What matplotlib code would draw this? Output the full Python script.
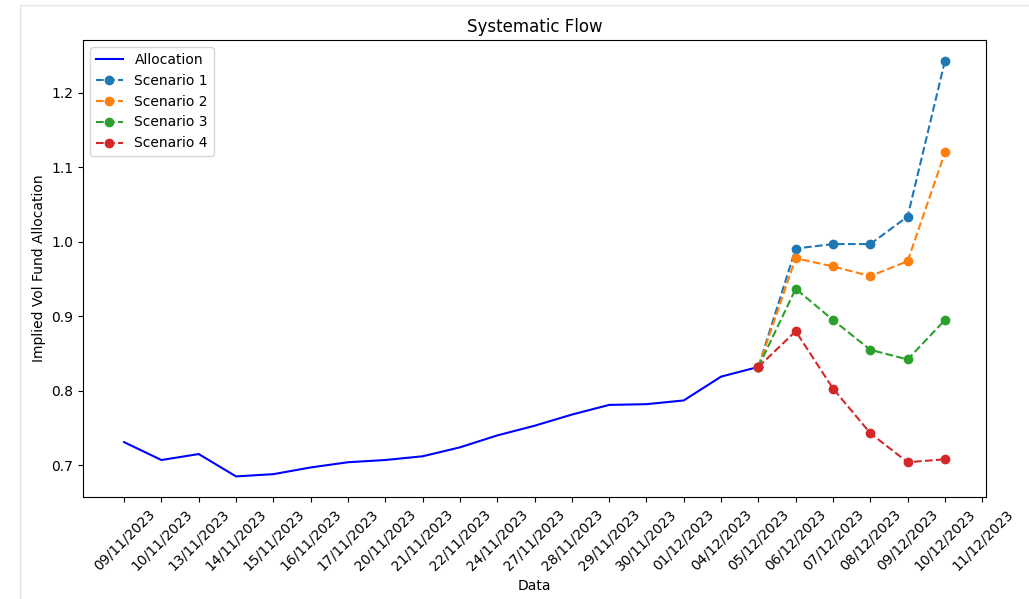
import matplotlib
matplotlib.use('Agg')
import matplotlib.pyplot as plt
from matplotlib.lines import Line2D

# Dates shown on the x axis (categorical positions)
dates = ['09/11/2023', '10/11/2023', '13/11/2023', '14/11/2023', '15/11/2023',
         '16/11/2023', '17/11/2023', '20/11/2023', '21/11/2023', '22/11/2023',
         '24/11/2023', '27/11/2023', '28/11/2023', '29/11/2023', '30/11/2023',
         '01/12/2023', '04/12/2023', '05/12/2023', '06/12/2023', '07/12/2023',
         '08/12/2023', '09/12/2023', '10/12/2023', '11/12/2023']

# Historical allocation, 09/11 -> 05/12
allocation = [0.731, 0.707, 0.715, 0.685, 0.688, 0.697, 0.704, 0.707, 0.712,
              0.724, 0.740, 0.753, 0.768, 0.781, 0.782, 0.787, 0.819, 0.832]

# Scenarios, 05/12 -> 10/12
scenario_1 = [0.832, 0.991, 0.997, 0.997, 1.034, 1.243]
scenario_2 = [0.832, 0.978, 0.967, 0.954, 0.974, 1.120]
scenario_3 = [0.832, 0.937, 0.895, 0.855, 0.842, 0.895]
scenario_4 = [0.832, 0.880, 0.803, 0.743, 0.704, 0.708]

fig = plt.figure(figsize=(10.29, 5.99), dpi=100)
ax = fig.add_axes([0.0807, 0.170, 0.8775, 0.763])

x_alloc = list(range(len(allocation)))
start = len(allocation) - 1
x_scen = list(range(start, start + len(scenario_1)))

ax.plot(x_alloc, allocation, color='blue', label='Allocation')
ax.plot(x_scen, scenario_1, '--o', color='tab:blue', label='Scenario 1')
ax.plot(x_scen, scenario_2, '--o', color='tab:orange', label='Scenario 2')
ax.plot(x_scen, scenario_3, '--o', color='tab:green', label='Scenario 3')
ax.plot(x_scen, scenario_4, '--o', color='tab:red', label='Scenario 4')

ax.set_xticks(range(len(dates)))
ax.set_xticklabels(dates, rotation=45)
ax.set_title('Systematic Flow')
ax.set_xlabel('Data')
ax.set_ylabel('Implied Vol Fund Allocation')
ax.legend(loc='upper left')

# faint frame of the notebook output cell
fig.add_artist(Line2D([0.0195, 0.0195], [0, 0.992], color='#e4e4e4', lw=1))
fig.add_artist(Line2D([0.0195, 1], [0.992, 0.992], color='#e4e4e4', lw=1))

fig.savefig('out.png', dpi=100)
